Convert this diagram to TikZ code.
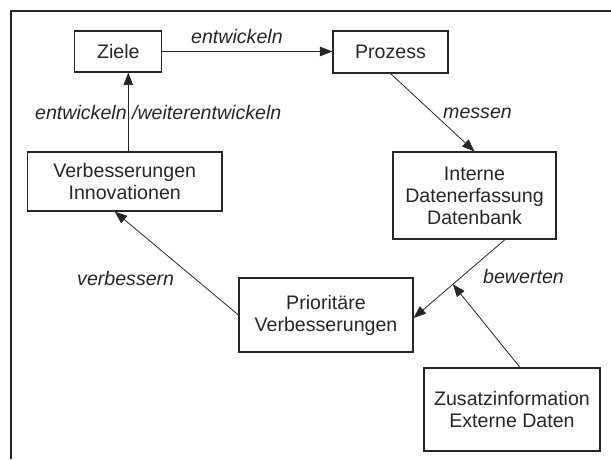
\documentclass[tikz,border=0pt]{standalone}
\usepackage{fontspec}
\setmainfont{Liberation Sans}
\usetikzlibrary{arrows.meta,calc}
\definecolor{ink}{HTML}{262626}
\tikzset{
  box/.style={draw=ink, line width=1.1pt, align=center, inner sep=0pt,
    font=\fontsize{19.6}{22}\selectfont, text=ink},
  lbl/.style={font=\fontsize{19.6}{22}\selectfont\itshape, text=ink,
    inner sep=0pt, anchor=base west},
  arr/.style={draw=ink, line width=0.8pt, -{Triangle[length=12.5pt,width=9.5pt]}},
  frameline/.style={draw=ink, line width=1.1pt}
}
\begin{document}
\begin{tikzpicture}[x=1pt,y=-1pt]
\useasboundingbox (0,0) rectangle (611,459);
\draw[frameline] (11,459) -- (11,11) -- (611,11);

\node[box, minimum width=87pt, minimum height=41pt] (ziele) at (118.3,51.5) {Ziele};
\node[box, minimum width=115pt, minimum height=42pt] (prozess) at (390.5,52) {Prozess};
\node[box, minimum width=194.5pt, minimum height=59pt] (verb) at (124.7,181.5) {Verbesserungen\\Innovationen};
\node[box, minimum width=163pt, minimum height=87pt] (interne) at (474.5,195.5) {Interne\\Datenerfassung\\Datenbank};
\node[box, minimum width=174pt, minimum height=74pt] (prio) at (326,315) {Prioritäre\\Verbesserungen};
\node[box, minimum width=176pt, minimum height=83pt] (zusatz) at (512,409.5) {Zusatzinformation\\Externe Daten};

\node[lbl] (l1) at (191,43) {entwickeln};
\node[lbl] (l2) at (35,119) {entwickeln /weiterentwickeln};
\node[lbl] (l3) at (443,118) {messen};
\node[lbl] (l4) at (77,285) {verbessern};
\node[lbl] (l5) at (483,283) {bewerten};

\coordinate (vx) at (128.3,0);
\draw[arr] (verb.north -| vx) -- (ziele.south -| vx);
\draw[arr] (ziele.east) -- (prozess.west |- ziele.east);
\draw[arr] (prozess.south) -- (interne.north);
\coordinate (ib) at ($(interne.south)+(30.5,0)$);
\coordinate (pe) at ($(prio.east)+(0,3)$);
\draw[arr] (ib) -- (pe);
\coordinate (zt) at ($(zusatz.north)+(8,0)$);
\coordinate (hit) at ($(ib)!0.57!(pe)$);
\draw[arr] (zt) -- (hit);
\coordinate (vb) at ($(verb.south)+(-10,0)$);
\draw[arr] (prio.west) -- (vb);
\end{tikzpicture}
\end{document}
